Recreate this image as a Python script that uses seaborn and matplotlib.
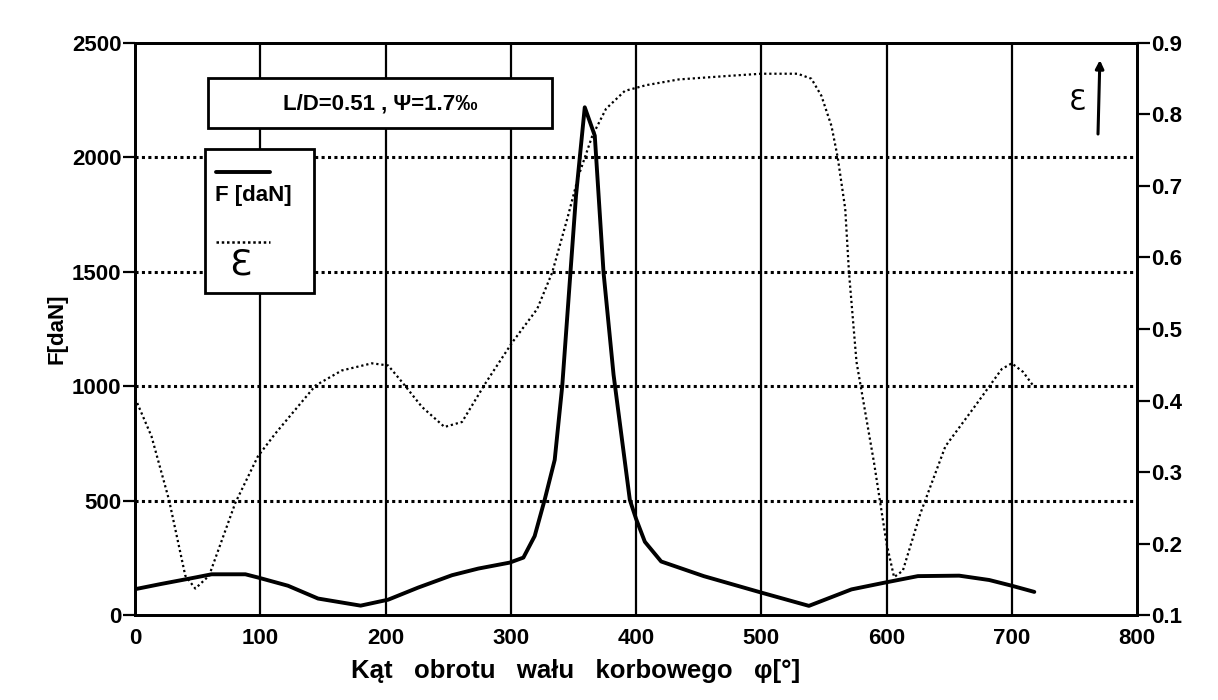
"""
Bearing load and eccentricity vs crank angle
"""

import matplotlib
matplotlib.use('Agg')
import matplotlib.pyplot as plt
from matplotlib.patches import Rectangle
import seaborn as sns

# crank angle [deg] and bearing force F [daN]
phi_F = [0, 20, 48, 61, 88, 98, 122, 146, 180, 202, 226, 253, 274, 299, 310,
         319, 327, 335, 341, 352, 359, 367, 374, 382, 395, 400, 407, 420, 454,
         500, 538, 572, 598, 625, 658, 682, 700, 718]
force = [113, 135, 164, 178, 178, 164, 128, 72, 41, 67, 120, 174, 203, 229, 251,
         345, 504, 678, 1000, 1832, 2219, 2095, 1497, 1050, 503, 420, 320, 234, 170,
         98, 40, 112, 141, 170, 172, 153, 128, 101]

# crank angle [deg] and relative eccentricity
phi_eps = [0, 13, 27, 40, 48, 59, 80, 98, 112, 144, 165, 189, 202, 213, 229,
           247, 261, 280, 301, 321, 333, 345, 354, 365, 376, 391, 408, 434, 474,
           500, 529, 540, 548, 556, 561, 567, 570, 576, 590, 600, 606, 613, 627,
           647, 671, 692, 700, 709, 717]
eps = [0.403, 0.350, 0.261, 0.155, 0.137, 0.155, 0.257, 0.322, 0.354, 0.421, 0.442,
       0.452, 0.449, 0.426, 0.391, 0.363, 0.370, 0.425, 0.481, 0.528, 0.579, 0.654,
       0.714, 0.770, 0.808, 0.833, 0.841, 0.849, 0.854, 0.857, 0.857, 0.850, 0.826,
       0.784, 0.740, 0.668, 0.579, 0.454, 0.313, 0.200, 0.153, 0.162, 0.242, 0.336,
       0.393, 0.444, 0.452, 0.440, 0.421]

x_ticks = [0, 100, 200, 300, 400, 500, 600, 700, 800]
f_ticks = [0, 500, 1000, 1500, 2000, 2500]
eps_ticks = [0.1, 0.2, 0.3, 0.4, 0.5, 0.6, 0.7, 0.8, 0.9]

sns.set_style('white')
plt.rcParams['font.family'] = ['Liberation Sans', 'DejaVu Sans']
plt.rcParams['font.weight'] = 'bold'
plt.rcParams['text.color'] = 'black'
plt.rcParams['axes.labelcolor'] = 'black'

fig = plt.figure(figsize=(12.18, 7), dpi=100)
ax = fig.add_axes([0.111, 0.1214, 0.8225, 0.8172])
ax2 = ax.twinx()

# force curve (solid)
sns.lineplot(x=phi_F, y=force, ax=ax, color='black', linewidth=2.8,
             estimator=None, sort=False)
# eccentricity curve (dotted)
sns.lineplot(x=phi_eps, y=eps, ax=ax2, color='black', linewidth=1.6,
             linestyle=(0, (1, 1.3)), estimator=None, sort=False)

ax.set_xlim(0, 800)
ax.set_ylim(0, 2500)
ax2.set_ylim(0.1, 0.9)
ax.set_xticks(x_ticks)
ax.set_yticks(f_ticks)
ax2.set_yticks(eps_ticks)
ax2.set_yticklabels([f'{v:.1f}' for v in eps_ticks])

# grid: solid vertical, dotted horizontal
for xv in x_ticks[1:-1]:
    ax.axvline(xv, color='black', lw=1.6, zorder=1)
for fv in f_ticks[1:-1]:
    ax.axhline(fv, color='black', lw=2.2, ls=(0, (1, 1.1)), zorder=1)

for a in (ax, ax2):
    for sp in a.spines.values():
        sp.set_color('black')
        sp.set_linewidth(2)
ax.tick_params(axis='y', direction='out', length=9, width=1.6, colors='black',
               labelsize=16, pad=1)
ax.tick_params(axis='x', direction='out', length=6, width=1.6, colors='black',
               labelsize=16, pad=3)
ax2.tick_params(axis='y', direction='out', length=9, width=1.6, colors='black',
                labelsize=16, pad=1)
for lbl in ax.get_xticklabels() + ax.get_yticklabels() + ax2.get_yticklabels():
    lbl.set_fontweight('bold')

ax.set_ylabel('F[daN]', fontsize=16, fontweight='bold')
ax.yaxis.set_label_coords(-0.068, 0.5)
ax.set_xlabel('Kąt   obrotu   wału   korbowego   φ[°]', fontsize=18.5,
              fontweight='bold')
ax.xaxis.set_label_coords(0.44, -0.077)
ax2.set_ylabel('')

# parameter box
ax2.add_patch(Rectangle((0.073, 0.851), 0.343, 0.088, transform=ax.transAxes,
                        facecolor='white', edgecolor='black', lw=2, zorder=5))
ax2.text(0.245, 0.893, 'L/D=0.51 , Ψ=1.7‰', transform=ax.transAxes,
         ha='center', va='center', fontsize=16, fontweight='bold', zorder=6)

# legend box
ax2.add_patch(Rectangle((0.070, 0.563), 0.108, 0.252, transform=ax.transAxes,
                        facecolor='white', edgecolor='black', lw=2, zorder=5))
ax2.plot([0.081, 0.135], [0.775, 0.775], transform=ax.transAxes, color='black',
         lw=2.8, zorder=6)
ax2.text(0.080, 0.734, 'F [daN]', transform=ax.transAxes, ha='left',
         va='center', fontsize=16, fontweight='bold', zorder=6)
ax2.plot([0.081, 0.135], [0.652, 0.652], transform=ax.transAxes, color='black',
         lw=1.8, ls=(0, (1, 1.1)), zorder=6)
ax2.text(0.105, 0.613, 'Ɛ', transform=ax.transAxes, ha='center',
         va='center', fontsize=26, fontweight='normal', family='DejaVu Sans',
         zorder=6)

# epsilon axis marker
ax2.text(0.940, 0.897, 'Ɛ', transform=ax.transAxes, ha='center', va='center',
         fontsize=20, fontweight='normal', family='DejaVu Sans')
ax2.annotate('', xy=(0.963, 0.975), xytext=(0.961, 0.836),
             xycoords='axes fraction', textcoords='axes fraction',
             arrowprops=dict(arrowstyle='-|>', color='black', lw=2.2,
                             mutation_scale=12))

fig.savefig('out.png', dpi=100)
plt.close(fig)
